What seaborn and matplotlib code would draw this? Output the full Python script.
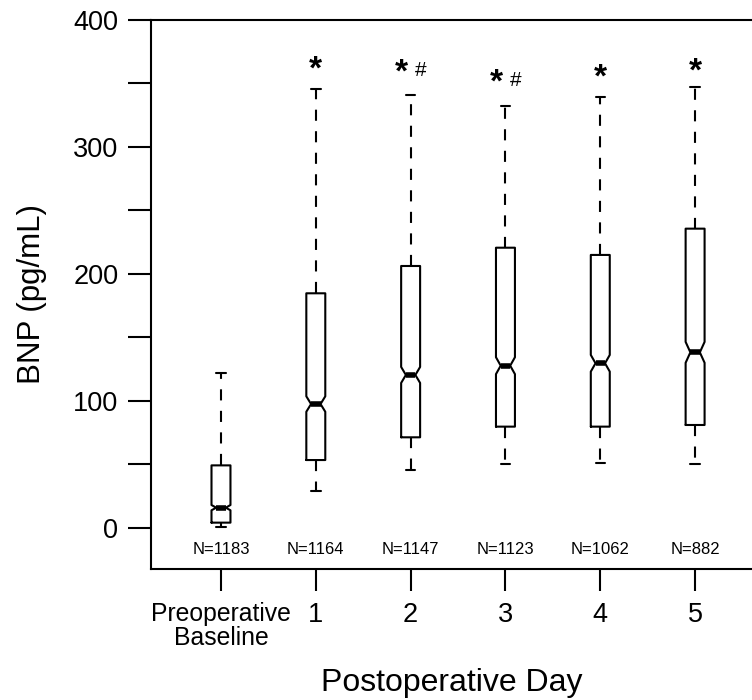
import numpy as np
import matplotlib
matplotlib.use("Agg")
import matplotlib.pyplot as plt
import seaborn as sns

# Resumen de cinco números de BNP (pg/mL) por día
dias = ["Preoperative\nBaseline", "1", "2", "3", "4", "5"]
n_pacientes = [1183, 1164, 1147, 1123, 1062, 882]
bigote_inf = [1, 29.4, 45.7, 50.4, 50.9, 50.4]
q1 = [4.2, 53.5, 71.4, 79.8, 79.8, 81.1]
mediana = [16, 97.6, 120.5, 127.8, 129.7, 138.3]
q3 = [49.3, 184.8, 206.3, 220.7, 215, 235.7]
bigote_sup = [121.8, 345.4, 341, 332.3, 339.6, 347.5]

# Marcas de significancia sobre cada caja
marca_asterisco = [False, True, True, True, True, True]
marca_numeral = [False, False, True, True, False, False]
altura_marca = [0, 364, 362, 354, 358, 363]


# Armar estadísticas para bxp (muesca estilo R: 1.58*IQR/sqrt(n))
def armar_stats():
    stats = []
    for i in range(len(dias)):
        iqr = q3[i] - q1[i]
        muesca = 1.58 * iqr / np.sqrt(n_pacientes[i])
        stats.append(dict(med=mediana[i], q1=q1[i], q3=q3[i],
                          whislo=bigote_inf[i], whishi=bigote_sup[i],
                          cilo=mediana[i] - muesca, cihi=mediana[i] + muesca,
                          fliers=[]))
    return stats


sns.set_style("ticks")
plt.rcParams["font.family"] = ["Liberation Sans", "DejaVu Sans"]
plt.rcParams["text.color"] = "black"
plt.rcParams["axes.labelcolor"] = "black"
plt.rcParams["xtick.color"] = "black"
plt.rcParams["ytick.color"] = "black"
plt.rcParams["lines.scale_dashes"] = False

fig = plt.figure(figsize=(7.52, 7), dpi=100)
ax = fig.add_axes([151 / 752, 1 - 569 / 700, 1 - 151 / 752, (569 - 20) / 700])

lw = 1.5
ax.bxp(armar_stats(), positions=range(len(dias)), widths=0.2, capwidths=0.1,
       shownotches=True, showfliers=False, manage_ticks=False,
       boxprops=dict(color="black", linewidth=lw),
       medianprops=dict(color="black", linewidth=4, solid_capstyle="butt"),
       whiskerprops=dict(color="black", linewidth=lw, linestyle=(0, (8, 7.5))),
       capprops=dict(color="black", linewidth=lw))

# Textos N y marcas
for i in range(len(dias)):
    ax.text(i, -17, f"N={n_pacientes[i]}", ha="center", va="center", fontsize=12)
    if marca_asterisco[i]:
        dx = -0.1 if marca_numeral[i] else 0
        ax.annotate("*", (i + dx, altura_marca[i]), xytext=(0, -9.5),
                    textcoords="offset points", ha="center", va="baseline",
                    fontsize=24, fontweight="bold")
    if marca_numeral[i]:
        ax.annotate("#", (i + 0.11, altura_marca[i]), xytext=(0, -5.5),
                    textcoords="offset points", ha="center", va="baseline",
                    fontsize=15)

ax.set_xlim(-0.738, 5.6)
ax.set_ylim(-32.3, 400)
ax.set_yticks(np.arange(0, 401, 50))
ax.set_yticklabels([str(v) if v % 100 == 0 else "" for v in range(0, 401, 50)])
ax.set_xticks(range(len(dias)))
ax.set_xticklabels(dias)

ax.tick_params(axis="y", length=16.5, width=lw, pad=7, labelsize=19.5, direction="out")
ax.tick_params(axis="x", length=16, width=lw, pad=8, labelsize=19.5, direction="out")
ax.get_xticklabels()[0].set_fontsize(17.8)
ax.get_xticklabels()[0].set_linespacing(1.0)
for lado in ["left", "top", "bottom"]:
    ax.spines[lado].set_linewidth(lw)
    ax.spines[lado].set_color("black")
ax.spines["right"].set_visible(False)

ax.set_xlabel("Postoperative Day", fontsize=23, labelpad=13)
ax.set_ylabel("BNP (pg/mL)", fontsize=22.5, labelpad=19)

fig.savefig("out.png", dpi=100)
